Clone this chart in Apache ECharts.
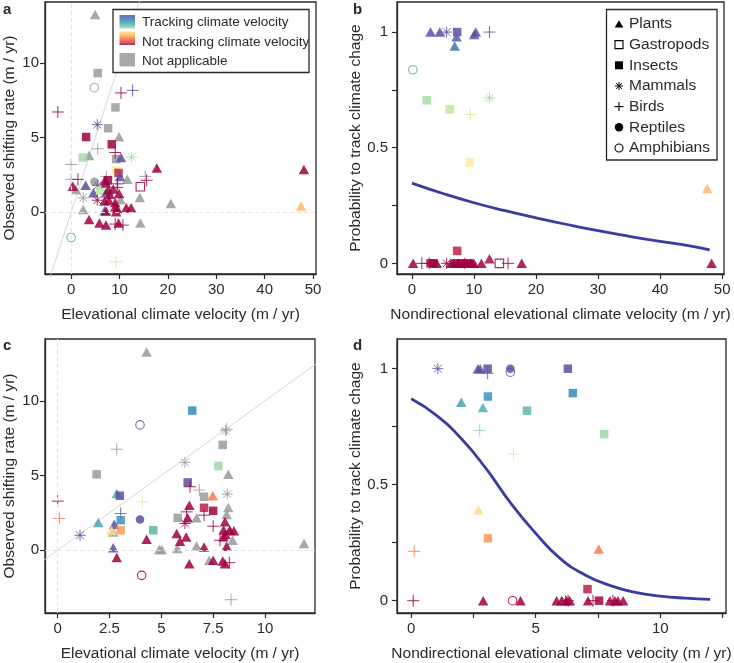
<!DOCTYPE html>
<html><head><meta charset="utf-8">
<script src="https://cdn.jsdelivr.net/npm/echarts@6/dist/echarts.min.js"></script>
<style>html,body{margin:0;padding:0;background:#fff}#c{width:734px;height:663px}</style>
</head><body><div id="c"></div>
<script>
// ---------- DATA ----------
const taxa = ['Plants','Gastropods','Insects','Mammals','Birds','Reptiles','Amphibians'];
const taxaCodes = ['P','G','I','M','B','R','A'];
const colourLegend = ['Tracking climate velocity','Not tracking climate velocity','Not applicable'];

// panel a: [elevational velocity, observed shift, taxon, probability (null = not applicable)]
const aPoints = [
[4.96,13.26,'P',null],[5.5,9.33,'I',null],[4.8,8.35,'A',null],[9.16,7.03,'I',null],[7.64,5.63,'I',null],
[9.9,5.06,'P',null],[5.5,4.25,'B',null],[3.7,3.8,'P',null],[9.3,3.56,'I',null],[0.0,3.2,'B',null],
[11.6,2.2,'P',null],[0.0,2.2,'B',null],[15.3,2.4,'B',null],[4.8,2.04,'R',null],[1.0,1.52,'P',null],
[2.5,0.96,'M',null],[2.5,0.18,'P',null],[14.2,0.98,'P',null],[20.6,0.58,'P',null],[14.3,-0.72,'P',null],
[10.2,0.85,'P',null],[7.3,2.4,'B',null],
[9.3,-3.33,'B',0.64],[-2.75,6.72,'B',0],[10.3,8.0,'B',0],[12.7,8.17,'B',1],[5.4,5.87,'M',1],
[3.1,5.04,'I',0],[8.4,4.55,'I',0],[9.1,4.0,'B',0],[12.5,3.7,'M',0.715],[2.4,3.66,'I',0.705],
[10.3,3.66,'P',1],[9.2,2.81,'I',0.436],[9.8,2.63,'I',0.054],[10.1,2.4,'P',1],[15.6,2.14,'B',0],
[14.3,1.7,'G',0],[1.4,2.2,'B',0],[7.6,2.14,'I',0],[7.0,2.14,'P',0],[3.0,1.8,'P',1],[0.35,1.74,'P',0],
[4.6,1.3,'P',1],[5.5,1.8,'M',1],[6.0,1.43,'I',0.666],[7.2,1.3,'P',1],[6.9,0.09,'P',0.94],
[47.5,0.42,'P',0.324],[48.1,2.86,'P',0],[17.7,2.97,'P',0],[0.0,-1.7,'A',0.837],[5.4,0.8,'M',0],
[7.2,1.96,'P',0],[8.7,1.55,'P',0],[9.9,1.25,'P',0],[8.0,1.2,'P',0],[7.7,1.5,'P',0],[9.1,0.65,'P',0],
[6.9,0.75,'P',0],[9.5,0.25,'P',0],[7.8,0.8,'P',0],[9.5,1.65,'B',0],[9.6,1.9,'B',0],
[9.1,0.36,'P',0],[11.4,0.29,'P',0],[12.4,0.29,'P',0],[7.2,0.07,'P',0],[9.3,0.02,'P',0],
[3.7,-0.49,'P',0],[5.85,-0.72,'P',0],[7.2,-0.87,'P',0],[9.1,-0.8,'B',0],[9.8,-0.72,'P',0],[10.7,-0.87,'B',0]
];

// panel b: [nondirectional velocity, probability, taxon]
const bPoints = [
[3.0,1,'P'],[4.5,1,'P'],[5.6,1,'M'],[7.3,1,'I'],[7.2,0.98,'P'],[6.9,0.94,'P'],[10.05,0.99,'P'],[10.3,1,'P'],[12.5,1,'B'],
[0.16,0.837,'A'],[2.4,0.705,'I'],[6.1,0.666,'I'],[12.5,0.715,'M'],[9.4,0.643,'B'],[9.3,0.436,'I'],[47.6,0.324,'P'],
[7.3,0.054,'I'],[12.5,0.02,'P'],
[0.2,0,'P'],[1.6,0,'B'],[2.8,0,'B'],[3.0,0,'I'],[3.5,0,'I'],[4.0,0,'P'],[5.6,0,'M'],[6.3,0,'P'],[6.8,0,'P'],
[7.1,0,'I'],[7.5,0,'P'],[7.9,0,'I'],[8.2,0,'P'],[8.5,0,'M'],[8.8,0,'P'],[9.1,0,'I'],[9.4,0,'P'],[9.7,0,'P'],
[10.0,0,'P'],[11.2,0,'P'],[14.1,0,'G'],[15.5,0,'B'],[17.7,0,'P'],[48.3,0,'P']
];
const bCurveX = [0,5,10,15,20,25,30,35,40,45,48];
const bCurveP = [0.347,0.302,0.262,0.228,0.197,0.168,0.141,0.117,0.095,0.075,0.058];

// panel c
const cPoints = [
[4.29,13.27,'P',null],[8.15,8.1,'B',null],[8.1,8.0,'M',null],[2.85,6.76,'B',null],[7.96,7.05,'I',null],
[6.14,5.88,'M',null],[1.88,5.08,'I',null],[8.23,5.08,'P',null],[6.83,4.03,'B',null],[7.06,3.58,'I',null],
[8.18,3.76,'M',null],[8.23,2.86,'P',null],[8.15,2.4,'P',null],[5.79,2.17,'I',null],[6.7,2.17,'P',null],
[2.68,1.23,'P',null],[8.44,0.67,'P',null],[4.9,0.05,'P',null],[5.02,0.05,'P',null],[5.77,0.11,'P',null],
[6.7,0.29,'P',null],[7.31,-0.67,'P',null],[8.36,-3.31,'B',null],[11.88,0.45,'P',null],[8.3,1.3,'P',null],
[6.49,9.35,'I',0.895],[3.97,8.39,'A',0.985],[7.75,5.64,'I',0.718],[6.27,4.54,'I',1],[6.38,4.25,'B',0],
[2.85,3.8,'P',0.833],[3.0,3.65,'I',1],[7.48,3.65,'P',0.223],[0.0,3.29,'B',0],[0.08,2.13,'B',0.213],
[4.08,3.24,'B',0.632],[6.35,3.02,'P',0],[7.06,2.84,'I',0.05],[7.5,2.64,'I',0],[3.04,2.46,'B',0.98],
[6.22,2.57,'B',0],[7.06,2.35,'B',0],[6.27,2.17,'P',0],[1.96,1.86,'P',0.855],[3.97,2.06,'R',1],
[3.04,2.01,'I',0.88],[6.14,1.79,'M',0],[8.07,1.9,'P',0],[2.73,1.74,'P',1],[7.5,1.61,'B',0],
[3.04,1.34,'I',0.269],[2.6,1.32,'P',0.392],[4.61,1.34,'I',0.819],[4.29,0.74,'P',0],
[8.0,1.35,'P',0],[8.3,1.35,'P',0],[8.5,1.3,'P',0],[8.1,1.05,'P',0],[8.0,0.9,'P',0],[7.83,0.67,'B',0],
[2.68,0.16,'P',1],[7.06,0.22,'P',0],[8.15,0.27,'P',0],[5.74,1.12,'P',0],[5.9,0.6,'P',0],[6.2,0.89,'P',0],
[2.85,-0.49,'P',0],[6.35,-0.9,'P',0],[7.5,-0.67,'P',0],[7.96,-0.72,'P',0],[8.07,-0.9,'P',0],
[8.28,-0.83,'B',0],[4.05,-1.68,'A',0],[1.08,1.0,'M',1]
];

// panel d
const dPoints = [
[1.07,1,'M'],[2.68,1,'P'],[2.77,1,'P'],[3.07,1,'I'],[3.07,0.98,'B'],[3.98,1,'R'],[3.98,0.985,'A'],[6.29,1,'I'],
[2.01,0.855,'P'],[3.08,0.88,'I'],[2.88,0.833,'P'],[4.65,0.819,'I'],[6.49,0.895,'I'],
[2.75,0.734,'B'],[7.75,0.718,'I'],[4.11,0.632,'B'],[2.7,0.392,'P'],[3.08,0.269,'I'],[0.12,0.213,'B'],
[7.53,0.223,'P'],[7.08,0.05,'I'],
[0.08,0,'B'],[2.89,0,'P'],[4.07,0,'A'],[4.39,0,'P'],[5.84,0,'P'],[6.04,0,'P'],[6.24,0,'P'],[6.37,0,'P'],
[6.2,0,'M'],[6.3,0,'B'],[7.1,0,'P'],[7.3,0,'B'],[7.54,0,'I'],[7.98,0,'P'],[8.18,0,'P'],[8.51,0,'P'],
[8.1,0,'B'],[8.3,0,'P']
];
const dCurveX = [0,1,2,3,4,5,6,7,8,9,10,11,12];
const dCurveP = [0.87,0.80,0.70,0.57,0.42,0.29,0.18,0.11,0.065,0.036,0.02,0.011,0.006];

const xTicksA = [0,10,20,30,40,50];
const yTicksShift = [0,5,10];
const xTicksC = [0,2.5,5,7.5,10];
const xTicksD = [0,2.5,5,7.5,10,12.5];
const xLabelsD = [0,5,10];
const yTicksProb = [0,0.25,0.5,0.75,1];
const yLabelsProb = [0,0.5,1];

// ---------- STYLE HELPERS ----------
const FONT = '"Liberation Sans", Arial, Helvetica, sans-serif';
const INK = '#2a2a2a';
const SPECTRAL = ['#9e0142','#d53e4f','#f46d43','#fdae61','#fee08b','#ffffbf','#e6f598','#abdda4','#66c2a5','#3288bd','#5e4fa2'];
function hex2rgb(h){return [parseInt(h.slice(1,3),16),parseInt(h.slice(3,5),16),parseInt(h.slice(5,7),16)];}
function probColor(p){
  if (p === null) return '#9a9a9a';
  const t = Math.max(0, Math.min(1, p)) * 10;
  const i = Math.min(9, Math.floor(t)), f = t - i;
  const a = hex2rgb(SPECTRAL[i]), b = hex2rgb(SPECTRAL[i + 1]);
  return 'rgb(' + a.map((v, k) => Math.round(v + (b[k] - v) * f)).join(',') + ')';
}
const PLUS = 'path://M0,6L12,6M6,0L6,12';
const AST = 'path://M0,6L12,6M6,0L6,12M1.76,1.76L10.24,10.24M1.76,10.24L10.24,1.76';
const SYMBOL = {P:'triangle', G:'rect', I:'rect', M:AST, B:PLUS, R:'circle', A:'circle'};
const SIZE = {P:[10.5,9.5], G:8.5, I:8.5, M:11, B:12, R:8.5, A:8.5};
const STROKED = {G:1.1, A:1.1, M:1, B:1};
const OP = 0.85;

function item(x, y, code, p) {
  const c = probColor(p);
  const st = STROKED[code]
    ? {color:'rgba(0,0,0,0)', borderColor:c, borderWidth:STROKED[code], opacity:OP}
    : {color:c, borderWidth:0, opacity:OP};
  return {value:[x, y], symbol:SYMBOL[code], symbolSize:SIZE[code], itemStyle:st};
}
function sortNA(arr){ return arr.filter(d => d[3] === null).concat(arr.filter(d => d[3] !== null)); }

function xAxis(g, min, max, ticks, labels, name) {
  return {gridIndex:g, type:'value', min:min, max:max,
    axisLine:{show:true, onZero:false, lineStyle:{color:INK, width:1.3}},
    axisTick:{show:true, length:5, customValues:ticks, lineStyle:{color:INK, width:1.2}},
    axisLabel:{customValues:labels, fontSize:15, color:INK, margin:8, fontFamily:FONT},
    splitLine:{show:false}, name:name, nameLocation:'middle', nameGap:33,
    nameTextStyle:{fontSize:15.5, color:INK, fontFamily:FONT}};
}
function yAxis(g, min, max, ticks, labels, name, gap, margin) {
  return {gridIndex:g, type:'value', min:min, max:max,
    axisLine:{show:true, onZero:false, lineStyle:{color:INK, width:1.3}},
    axisTick:{show:true, length:5, customValues:ticks, lineStyle:{color:INK, width:1.2}},
    axisLabel:{customValues:labels, fontSize:15, color:INK, margin:margin, fontFamily:FONT},
    splitLine:{show:false}, name:name, nameLocation:'middle', nameRotate:90, nameGap:gap,
    nameTextStyle:{fontSize:15.5, color:INK, fontFamily:FONT}};
}
const gridStyle = {show:true, borderColor:INK, borderWidth:1.3, backgroundColor:'rgba(0,0,0,0)'};

const AX = [-5.4, 50.6], AY = [-4.15, 14.1];
const BX = [-2.4, 50.3], BY = [-0.046, 1.13];
const CX = [-0.61, 12.41], CY = [-4.2, 14.14];
const DX = [-0.57, 12.64], DY = [-0.053, 1.128];

function guideSeries(xi, lo, hi) {
  return [
    {type:'line', xAxisIndex:xi, yAxisIndex:xi, data:[[lo, lo], [hi, hi]], symbol:'none', silent:true, clip:true,
     lineStyle:{color:'#d6d6d6', width:1}, z:1,
     markLine:{silent:true, symbol:'none', label:{show:false}, animation:false,
       lineStyle:{color:'#ebe3e3', width:1.1, type:[4,3]}, data:[{xAxis:0}, {yAxis:0}]}}
  ];
}
function scatter(xi, items) {
  return {type:'scatter', xAxisIndex:xi, yAxisIndex:xi, data:items, z:3, silent:true, clip:true};
}
function curve(xi, xs, ps) {
  return {type:'line', xAxisIndex:xi, yAxisIndex:xi, data:xs.map((x, i) => [x, ps[i]]), smooth:true,
    symbol:'none', silent:true, lineStyle:{color:'#3b3ca0', width:2.8}, z:4};
}

// ---------- LEGENDS (graphic) ----------
const g = [];
function txt(x, y, s, size, weight, va) {
  g.push({type:'text', x:x, y:y, silent:true,
    style:{text:s, fontSize:size, fontWeight:weight || 'normal', fontFamily:FONT, fill:INK, verticalAlign:va || 'middle', align:'left'}});
}
// panel letters
txt(3, 2, 'a', 15, 'bold', 'top'); txt(353, 2, 'b', 15, 'bold', 'top');
txt(3, 338.5, 'c', 15, 'bold', 'top'); txt(353, 338.5, 'd', 15, 'bold', 'top');
// colour legend (panel a)
g.push({type:'rect', shape:{x:113, y:9.5, width:196, height:63}, style:{fill:'#fff', stroke:INK, lineWidth:1.3}, z:10});
g.push({type:'rect', shape:{x:119.5, y:15, width:15.5, height:13.5}, z:11,
  style:{opacity:OP, fill:new echarts.graphic.LinearGradient(0,0,0,1,[{offset:0,color:'#5e4fa2'},{offset:0.4,color:'#3288bd'},{offset:0.75,color:'#66c2a5'},{offset:1,color:'#abdda4'}])}});
g.push({type:'rect', shape:{x:119.5, y:31.5, width:15.5, height:13.5}, z:11,
  style:{opacity:OP, fill:new echarts.graphic.LinearGradient(0,0,0,1,[{offset:0,color:'#fee08b'},{offset:0.3,color:'#fdae61'},{offset:0.55,color:'#f46d43'},{offset:0.8,color:'#d53e4f'},{offset:1,color:'#9e0142'}])}});
g.push({type:'rect', shape:{x:119.5, y:53, width:15.5, height:13.5}, z:11, style:{opacity:OP, fill:'#9a9a9a'}});
[22, 42, 61].forEach((y, i) => { txt(142, y, colourLegend[i], 13.5); g[g.length-1].z = 11; });
// taxa legend (panel b)
g.push({type:'rect', shape:{x:606.5, y:9.5, width:110.5, height:150.5}, style:{fill:'#fff', stroke:INK, lineWidth:1.3}, z:10});
const rowY = [24, 44.6, 65.3, 86, 106.6, 127.3, 148];
const sx = 619;
taxaCodes.forEach((code, i) => {
  const y = rowY[i];
  const k = 'rgba(0,0,0,1)';
  if (code === 'P') g.push({type:'polygon', z:11, shape:{points:[[sx-4.3,y+3.6],[sx+4.3,y+3.6],[sx,y-3.8]]}, style:{fill:k}});
  if (code === 'G') g.push({type:'rect', z:11, shape:{x:sx-4,y:y-4,width:8,height:8}, style:{fill:null, stroke:k, lineWidth:1.1}});
  if (code === 'I') g.push({type:'rect', z:11, shape:{x:sx-4,y:y-4,width:8,height:8}, style:{fill:k}});
  if (code === 'M') {
    [[-4,0,4,0],[0,-4,0,4],[-2.9,-2.9,2.9,2.9],[-2.9,2.9,2.9,-2.9]].forEach(l =>
      g.push({type:'line', z:11, shape:{x1:sx+l[0],y1:y+l[1],x2:sx+l[2],y2:y+l[3]}, style:{stroke:k, lineWidth:1}}));
  }
  if (code === 'B') {
    [[-4.5,0,4.5,0],[0,-4.5,0,4.5]].forEach(l =>
      g.push({type:'line', z:11, shape:{x1:sx+l[0],y1:y+l[1],x2:sx+l[2],y2:y+l[3]}, style:{stroke:k, lineWidth:1.1}}));
  }
  if (code === 'R') g.push({type:'circle', z:11, shape:{cx:sx,cy:y,r:4.2}, style:{fill:k}});
  if (code === 'A') g.push({type:'circle', z:11, shape:{cx:sx,cy:y,r:4}, style:{fill:null, stroke:k, lineWidth:1.1}});
  txt(629, y, taxa[i], 15.5); g[g.length-1].z = 11;
});

// ---------- CHART ----------
const chart = echarts.init(document.getElementById('c'), null, {renderer:'canvas'});
chart.setOption({
  animation:false, backgroundColor:'#fff', textStyle:{fontFamily:FONT},
  grid:[
    Object.assign({left:45, top:2, width:271, height:272}, gridStyle),
    Object.assign({left:397, top:2, width:327, height:272}, gridStyle),
    Object.assign({left:45, top:339, width:270, height:274}, gridStyle),
    Object.assign({left:397, top:339, width:329, height:274}, gridStyle)
  ],
  xAxis:[
    xAxis(0, AX[0], AX[1], xTicksA, xTicksA, 'Elevational climate velocity (m / yr)'),
    xAxis(1, BX[0], BX[1], xTicksA, xTicksA, 'Nondirectional elevational climate velocity (m / yr)'),
    xAxis(2, CX[0], CX[1], xTicksC, xTicksC, 'Elevational climate velocity (m / yr)'),
    xAxis(3, DX[0], DX[1], xTicksD, xLabelsD, 'Nondirectional elevational climate velocity (m / yr)')
  ],
  yAxis:[
    yAxis(0, AY[0], AY[1], yTicksShift, yTicksShift, 'Observed shifting rate (m / yr)', 27, 6),
    yAxis(1, BY[0], BY[1], yTicksProb, yLabelsProb, 'Probability to track climate chage', 31, 9),
    yAxis(2, CY[0], CY[1], yTicksShift, yTicksShift, 'Observed shifting rate (m / yr)', 27, 6),
    yAxis(3, DY[0], DY[1], yTicksProb, yLabelsProb, 'Probability to track climate chage', 31, 9)
  ],
  series:[].concat(
    guideSeries(0, -6, 16),
    [scatter(0, sortNA(aPoints).map(d => item(d[0], d[1], d[2], d[3])))],
    [scatter(1, bPoints.map(d => item(d[0], d[1], d[2], d[1])))],
    [curve(1, bCurveX, bCurveP)],
    guideSeries(2, -6, 16),
    [scatter(2, sortNA(cPoints).map(d => item(d[0], d[1], d[2], d[3])))],
    [scatter(3, dPoints.map(d => item(d[0], d[1], d[2], d[1])))],
    [curve(3, dCurveX, dCurveP)]
  ),
  graphic:{elements:g}
});
</script>
</body></html>
